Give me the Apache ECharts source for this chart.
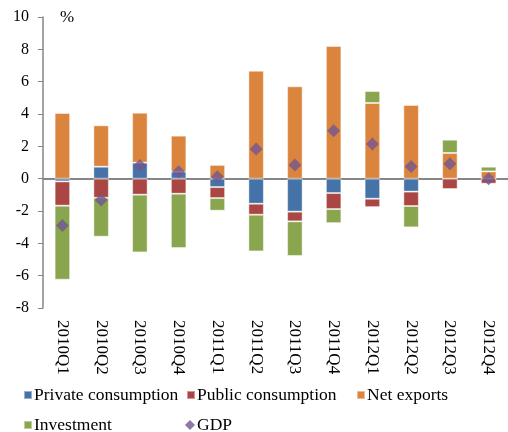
<!DOCTYPE html>
<html>
<head>
<meta charset="utf-8">
<script src="https://cdn.jsdelivr.net/npm/echarts@6/dist/echarts.min.js"></script>
<style>html,body{margin:0;padding:0;background:#fff}#c{width:508px;height:432px}</style>
</head>
<body>
<div id="c"></div>
<script>
var categories = ['2010Q1','2010Q2','2010Q3','2010Q4','2011Q1','2011Q2','2011Q3','2011Q4','2012Q1','2012Q2','2012Q3','2012Q4'];
var privateConsumption = [-0.17, 0.74, 0.99, 0.43, -0.52, -1.55, -2.04, -0.89, -1.24, -0.80, 0, 0];
var publicConsumption = [-1.50, -1.18, -0.99, -0.93, -0.68, -0.68, -0.60, -0.99, -0.52, -0.89, -0.64, -0.31];
var netExports = [4.06, 2.56, 3.09, 2.23, 0.85, 6.68, 5.71, 8.21, 4.68, 4.56, 1.59, 0.45];
var investment = [-4.58, -2.41, -3.57, -3.36, -0.78, -2.27, -2.14, -0.87, 0.74, -1.32, 0.82, 0.29];
var gdp = [-2.90, -1.32, 0.82, 0.43, 0.12, 1.84, 0.85, 2.97, 2.14, 0.76, 0.93, 0.00];
var yTicks = {min: -8, max: 10, interval: 2};

var FONT = '"Liberation Serif","Times New Roman",serif';
var AXIS = '#868686';
function bar(name, data, color) {
  return {name: name, type: 'bar', stack: 'total', data: data, barWidth: '40%',
    itemStyle: {color: color, borderColor: 'rgba(255,255,255,0.45)', borderWidth: 1}};
}
function leg(name, left, top, icon) {
  return {data: [{name: name, icon: icon}], left: left, top: top, itemWidth: icon === 'diamond' ? 10 : 8,
    itemHeight: icon === 'diamond' ? 10 : 8, itemGap: 0, padding: 0,
    textStyle: {fontFamily: FONT, fontSize: 17.5, color: '#000', padding: [0, 0, 0, -3]}};
}
var chart = echarts.init(document.getElementById('c'));
chart.setOption({
  animation: false,
  grid: {left: 43, right: 0, top: 17, bottom: 124},
  xAxis: [{
    type: 'category', data: categories, position: 'bottom',
    axisLine: {onZero: true, lineStyle: {color: AXIS, width: 2}},
    axisTick: {inside: true, length: 5, lineStyle: {color: AXIS, width: 1.5}},
    axisLabel: {show: false}
  }, {
    type: 'category', data: categories, position: 'bottom',
    axisLine: {show: false, onZero: false}, axisTick: {show: false},
    axisLabel: {rotate: -90, margin: 12, fontFamily: FONT, fontSize: 17, color: '#000'}
  }],
  yAxis: {
    type: 'value', min: yTicks.min, max: yTicks.max, interval: yTicks.interval,
    axisLine: {show: true, lineStyle: {color: AXIS, width: 1.5}},
    axisTick: {show: true, length: 5, lineStyle: {color: AXIS}},
    splitLine: {show: false},
    axisLabel: {margin: 14, fontFamily: FONT, fontSize: 16, color: '#000'}
  },
  legend: [
    leg('Private consumption', 23, 386, 'rect'),
    leg('Public consumption', 186, 386, 'rect'),
    leg('Net exports', 356, 386, 'rect'),
    leg('Investment', 23, 416, 'rect'),
    leg('GDP', 185, 416, 'diamond')
  ],
  graphic: [{type: 'text', left: 60, top: 9, style: {text: '%', font: '17px ' + FONT, fill: '#000'}}],
  series: [
    bar('Private consumption', privateConsumption, '#4572A7'),
    bar('Public consumption', publicConsumption, '#AA4643'),
    bar('Net exports', netExports, '#DB843D'),
    bar('Investment', investment, '#89A54E'),
    {name: 'GDP', type: 'scatter', data: gdp, symbol: 'diamond', symbolSize: [13, 13], z: 5,
      itemStyle: {color: '#71588F'}}
  ]
});
</script>
</body>
</html>
